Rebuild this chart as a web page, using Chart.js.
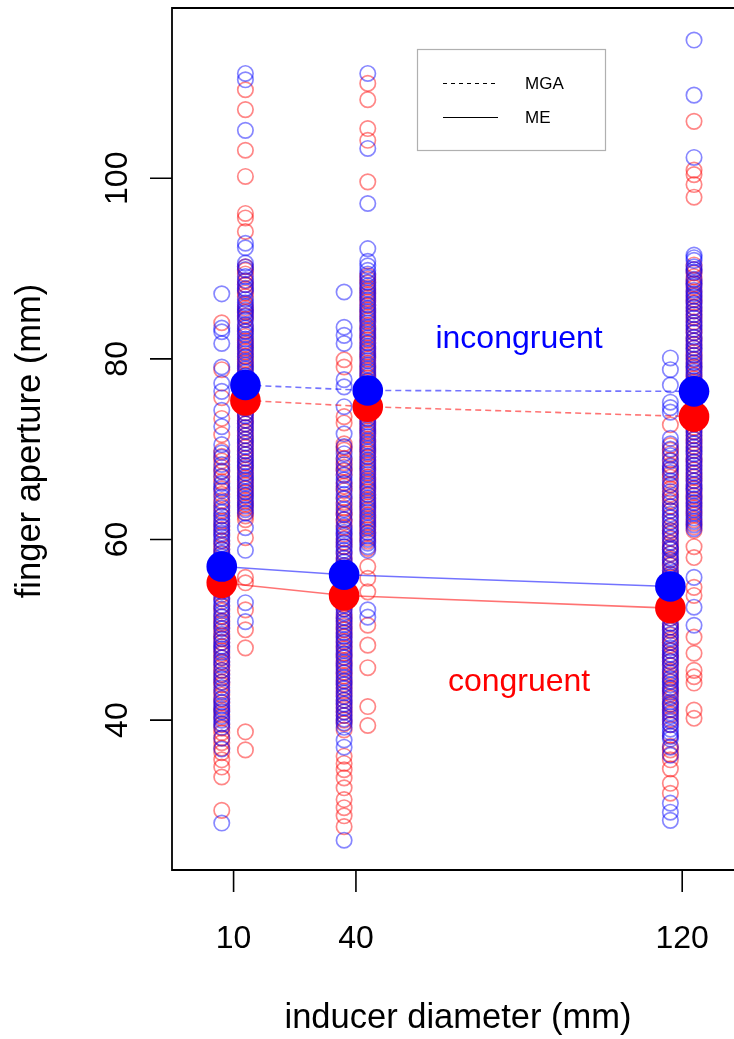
<!DOCTYPE html>
<html>
<head>
<meta charset="utf-8">
<script src="https://cdn.jsdelivr.net/npm/chart.js@4/dist/chart.umd.min.js"></script>
<style>
  html, body { margin: 0; padding: 0; background: #fff; }
  canvas { display: block; }
</style>
</head>
<body>
<canvas id="chart" width="734" height="1039"></canvas>
<script>
/* ───────────────────────── data ───────────────────────── */

const inducers = [10, 40, 120];
const xTicks = [10, 40, 120];
const yTicks = [40, 60, 80, 100];

// ME (left column of each pair)
const meCong10 = [84.0, 78.8, 75.7, 73.4, 71.6, 69.8, 68.7, 67.5, 66.4, 65.0, 64.3, 63.2, 62.0, 61.1, 60.5, 59.3, 58.4, 57.6, 56.8, 55.7, 55.1, 54.3, 53.4, 52.6, 51.5, 50.7, 49.8, 49.0, 48.1, 47.3, 46.4, 45.5, 44.7, 43.9, 42.8, 41.9, 41.0, 40.2, 39.5, 38.6, 37.5, 36.4, 35.6, 34.8, 33.7, 30.0,
  69.2, 68.0, 66.9, 65.6, 63.7, 62.6, 61.5, 59.8, 58.9, 57.1, 56.3, 54.7, 53.9, 52.1, 51.0, 50.2, 49.3, 48.6, 47.7, 46.9, 45.9, 45.1, 44.2, 43.3, 42.3, 41.4, 40.6, 39.1, 38.0, 36.9];
const meIncong10 = [87.2, 83.4, 83.0, 81.7, 79.1, 77.3, 76.4, 74.3, 72.5, 70.5, 69.1, 68.3, 67.0, 66.2, 65.4, 64.1, 63.5, 62.6, 61.8, 61.0, 60.3, 59.5, 58.9, 58.1, 57.4, 56.6, 55.9, 55.0, 54.2, 53.5, 52.7, 51.8, 50.9, 50.1, 49.0, 48.2, 47.5, 46.9, 46.1, 45.0, 44.2, 43.1, 42.4, 41.6, 40.9, 40.0, 39.2, 38.0, 36.8, 28.6,
  69.6, 67.6, 65.8, 64.7, 63.0, 62.2, 61.4, 60.7, 59.9, 58.5, 57.8, 57.0, 56.2, 55.4, 54.6, 53.1, 52.3, 51.4, 50.5, 49.5, 48.6, 47.9, 46.5, 45.5, 44.6, 43.6, 42.0, 41.2, 40.4, 39.6];
const meCong40 = [79.9, 79.1, 73.6, 72.9, 70.6, 69.9, 69.0, 68.0, 67.2, 66.3, 65.4, 64.6, 63.5, 62.7, 61.9, 60.6, 59.7, 58.5, 57.6, 56.4, 55.5, 54.7, 53.6, 52.8, 51.7, 50.9, 50.0, 49.2, 48.3, 47.4, 46.6, 45.8, 44.9, 44.0, 43.2, 42.2, 41.3, 40.5, 39.6, 38.9, 36.0, 34.5, 33.6, 32.5, 31.2, 30.3, 29.4, 28.2,
  70.2, 68.5, 67.6, 65.9, 64.1, 63.0, 62.2, 61.3, 60.1, 59.2, 58.0, 57.1, 56.0, 55.1, 54.2, 53.2, 52.3, 51.3, 50.4, 49.6, 48.7, 47.9, 47.0, 46.2, 45.3, 44.4, 43.6, 42.7, 41.7, 40.9, 40.0, 35.2];
const meIncong40 = [87.4, 83.5, 82.6, 81.7, 77.7, 76.9, 74.7, 71.7, 69.5, 68.3, 67.1, 66.2, 65.0, 63.9, 62.8, 61.5, 60.8, 60.0, 59.2, 58.4, 57.5, 56.8, 56.0, 55.1, 54.4, 53.5, 52.7, 51.9, 51.0, 50.1, 49.3, 48.6, 47.7, 46.9, 46.0, 45.2, 44.3, 43.5, 42.6, 41.8, 40.9, 40.1, 39.2, 37.8, 37.0, 26.7,
  70.3, 68.9, 67.7, 66.6, 65.6, 64.5, 63.3, 62.2, 61.1, 60.4, 59.6, 58.8, 57.9, 57.1, 56.4, 55.6, 54.8, 53.9, 53.1, 52.3, 51.4, 50.6, 49.7, 48.9, 48.1, 47.3, 46.4, 45.6, 44.7, 43.9, 43.0, 42.2, 41.4, 40.5, 39.7];
const meCong120 = [72.7, 70.4, 69.5, 68.8, 67.7, 66.9, 66.1, 65.0, 64.3, 63.2, 62.5, 61.4, 60.7, 59.6, 58.9, 57.8, 57.1, 56.1, 55.4, 54.3, 53.6, 52.5, 51.8, 50.7, 50.0, 48.9, 48.3, 47.2, 46.5, 45.4, 44.7, 43.6, 42.9, 41.8, 41.1, 40.1, 37.1, 36.2, 35.6, 34.6, 33.0, 31.9,
  69.9, 68.2, 67.2, 65.6, 64.7, 63.7, 62.0, 61.0, 60.1, 59.2, 58.4, 57.4, 56.6, 55.8, 54.8, 53.9, 53.0, 52.1, 51.3, 50.3, 49.4, 48.6, 47.7, 46.9, 46.0, 45.0, 44.2, 43.3, 42.4, 41.5, 40.6, 39.5, 38.3, 36.7];
const meIncong120 = [80.1, 78.8, 77.1, 75.2, 74.6, 74.1, 71.2, 70.0, 69.3, 68.1, 67.4, 66.5, 65.3, 64.7, 63.6, 62.8, 61.9, 61.0, 60.2, 59.1, 58.4, 57.7, 56.6, 55.9, 55.2, 54.3, 53.4, 52.5, 51.8, 50.7, 49.9, 49.1, 48.0, 47.3, 46.5, 45.6, 44.6, 43.9, 43.1, 42.0, 41.2, 40.4, 39.5, 38.6, 37.9, 37.0, 36.1, 30.8, 29.8, 28.9,
  70.6, 68.7, 67.8, 66.0, 64.1, 63.2, 62.4, 61.5, 60.6, 59.7, 58.9, 58.0, 57.2, 56.2, 55.5, 54.7, 53.9, 53.0, 52.1, 51.3, 50.3, 49.5, 48.6, 47.7, 46.9, 46.1, 45.2, 44.3, 43.5, 42.6, 41.7, 40.8, 39.9, 39.0, 38.2];

// MGA (right column of each pair)
const mgaCong10 = [109.8, 107.6, 103.1, 100.2, 96.1, 95.6, 94.1, 90.2, 89.4, 88.6, 87.7, 86.9, 86.0, 85.2, 84.4, 83.6, 82.5, 81.6, 80.8, 79.9, 79.1, 78.2, 77.4, 76.6, 75.7, 74.9, 74.0, 73.2, 72.4, 71.5, 70.6, 69.8, 69.0, 68.1, 67.3, 66.4, 65.6, 64.8, 63.9, 63.0, 62.2, 60.2, 55.8, 55.2, 52.2, 50.0, 48.0, 38.7, 36.7,
  89.8, 88.2, 87.3, 85.6, 84.8, 83.1, 82.0, 81.2, 80.3, 79.5, 78.7, 77.8, 77.0, 76.1, 75.3, 74.5, 73.6, 72.8, 71.9, 71.1, 70.2, 69.4, 68.5, 67.7, 66.8, 66.0, 65.2, 64.3, 63.5, 62.6];
const mgaIncong10 = [111.6, 110.9, 105.3, 92.8, 92.3, 90.6, 89.9, 89.1, 88.2, 87.5, 86.6, 85.8, 85.1, 84.3, 83.4, 82.7, 81.8, 81.0, 80.2, 79.3, 78.5, 77.8, 76.9, 76.1, 75.2, 74.5, 73.7, 72.8, 72.0, 71.1, 70.3, 69.4, 68.6, 67.9, 67.0, 66.2, 65.3, 64.5, 63.7, 62.9, 61.3, 58.8, 53.0, 50.9,
  90.2, 88.7, 87.8, 86.2, 85.4, 84.7, 83.8, 83.0, 82.2, 81.4, 80.6, 79.7, 78.9, 78.1, 77.3, 76.5, 75.6, 74.8, 74.0, 73.2, 72.4, 71.5, 70.7, 69.8, 69.0, 68.2, 67.4, 66.6, 65.7, 64.9, 64.1, 63.3];
const mgaCong40 = [110.5, 108.7, 105.5, 104.2, 99.6, 89.2, 88.4, 87.5, 86.7, 85.9, 85.0, 84.2, 83.3, 82.5, 81.7, 80.8, 80.0, 79.1, 78.3, 77.5, 76.6, 75.8, 74.9, 74.1, 73.3, 72.4, 71.6, 70.7, 69.9, 69.1, 68.2, 67.4, 66.5, 65.7, 64.9, 64.0, 63.2, 62.3, 61.5, 60.7, 59.8, 59.0, 57.0, 55.7, 54.2, 50.5, 48.3, 45.8, 41.5, 39.4,
  88.8, 87.9, 87.1, 86.3, 85.4, 84.6, 83.7, 82.9, 82.1, 81.2, 80.4, 79.5, 78.7, 77.9, 77.0, 76.2, 75.3, 74.5, 73.7, 72.8, 72.0, 71.1, 70.3, 69.5, 68.6, 67.8, 66.9, 66.1, 65.3, 64.4, 63.6, 62.7, 61.9, 61.1, 60.2];
const mgaIncong40 = [111.6, 103.3, 97.2, 92.2, 90.8, 89.8, 89.0, 88.1, 87.3, 86.5, 85.6, 84.8, 84.0, 83.1, 82.3, 81.4, 80.6, 79.8, 78.9, 78.1, 77.2, 76.4, 75.6, 74.7, 73.9, 73.0, 72.2, 71.4, 70.5, 69.7, 68.8, 68.0, 67.2, 66.3, 65.5, 64.6, 63.8, 63.0, 62.1, 61.3, 60.4, 59.6, 58.8, 52.2, 51.4,
  90.3, 89.4, 88.5, 87.7, 86.9, 86.0, 85.2, 84.4, 83.5, 82.7, 81.8, 81.0, 80.2, 79.3, 78.5, 77.6, 76.8, 76.0, 75.1, 74.3, 73.4, 72.6, 71.8, 70.9, 70.1, 69.2, 68.4, 67.6, 66.7, 65.9, 65.0, 64.2, 63.4, 62.5, 61.7, 60.8, 60.0, 59.2];
const mgaCong120 = [106.3, 100.9, 100.4, 99.3, 97.9, 90.4, 89.5, 88.7, 87.9, 87.0, 86.2, 85.3, 84.6, 83.7, 82.9, 82.0, 81.2, 80.4, 79.5, 78.7, 77.8, 77.0, 76.2, 75.3, 74.5, 73.6, 72.8, 71.9, 71.1, 70.3, 69.4, 68.6, 67.7, 66.9, 66.0, 65.2, 64.4, 63.5, 62.7, 61.8, 61.0, 59.2, 58.0, 54.7, 53.8, 49.2, 47.4, 45.5, 44.8, 44.1, 41.1, 40.2,
  89.9, 89.1, 88.3, 87.4, 86.6, 85.7, 84.9, 84.1, 83.2, 82.4, 81.6, 80.7, 79.9, 79.1, 78.2, 77.4, 76.6, 75.7, 74.9, 74.0, 73.2, 72.4, 71.5, 70.7, 69.9, 69.0, 68.2, 67.3, 66.5, 65.6, 64.8, 64.0, 63.1, 62.2, 61.4];
const mgaIncong120 = [115.3, 109.2, 102.3, 91.5, 90.9, 90.2, 89.6, 88.8, 88.1, 87.2, 86.5, 85.7, 84.9, 84.0, 83.3, 82.4, 81.6, 80.9, 80.0, 79.2, 78.5, 77.6, 76.8, 75.9, 75.1, 74.4, 73.5, 72.8, 71.9, 71.1, 70.2, 69.5, 68.6, 67.8, 67.0, 66.1, 65.4, 64.5, 63.7, 62.9, 62.0, 61.2, 55.8, 52.5, 50.5,
  91.2, 89.9, 88.4, 87.6, 86.9, 86.1, 85.3, 84.5, 83.7, 82.9, 82.0, 81.2, 80.4, 79.6, 78.9, 78.1, 77.2, 76.4, 75.5, 74.7, 73.9, 73.1, 72.3, 71.5, 70.6, 69.8, 69.0, 68.2, 67.4, 66.5, 65.7, 64.9, 64.1, 63.3, 62.4, 61.6];

// condition means (big dots)
const meanMeCong = [55.2, 53.8, 52.4];
const meanMeIncong = [57.0, 56.1, 54.8];
const meanMgaCong = [75.4, 74.7, 73.6];
const meanMgaIncong = [77.1, 76.5, 76.4];

/* ───────────────────────── helpers ───────────────────────── */

const ME_SHIFT = -2.9;
const MGA_SHIFT = 2.9;

const RED = 'rgba(255,0,0,0.47)';
const BLUE = 'rgba(0,0,255,0.47)';
const RED_LINE = 'rgba(255,0,0,0.55)';
const BLUE_LINE = 'rgba(0,0,255,0.55)';
const FONT = '"Liberation Sans", Arial, Helvetica, sans-serif';

function columnPoints(lists, shift) {
  const pts = [];
  lists.forEach((vals, i) => {
    for (const v of vals) pts.push({ x: inducers[i] + shift, y: v });
  });
  return pts;
}

function meanPoints(vals, shift) {
  return vals.map((v, i) => ({ x: inducers[i] + shift, y: v }));
}

function rawSet(data, color, order) {
  return {
    data, order,
    pointStyle: 'circle', pointRadius: 7.7, pointBorderWidth: 1.7,
    pointBorderColor: color, pointBackgroundColor: 'rgba(0,0,0,0)',
    showLine: false,
  };
}

function lineSet(data, color, dash, order) {
  return {
    data, order, showLine: true, borderColor: color, borderWidth: 1.6,
    borderDash: dash, pointRadius: 0, fill: false, tension: 0,
  };
}

function dotSet(data, color, order) {
  return {
    data, order, showLine: false, pointRadius: 15.3, pointBorderWidth: 0,
    pointBackgroundColor: color, pointBorderColor: color,
  };
}

/* ─────────────────── R-style frame and text ─────────────────── */

const rFrame = {
  id: 'rFrame',
  afterDraw(chart) {
    const { ctx, chartArea: a, scales: { x, y } } = chart;
    ctx.save();
    ctx.strokeStyle = '#000';
    ctx.lineWidth = 1.8;
    ctx.beginPath();
    ctx.moveTo(a.right + 20, a.top);
    ctx.lineTo(a.left, a.top);
    ctx.lineTo(a.left, a.bottom);
    ctx.lineTo(a.right + 20, a.bottom);
    ctx.stroke();

    // ticks
    ctx.lineWidth = 1.6;
    ctx.beginPath();
    for (const t of xTicks) {
      const px = x.getPixelForValue(t);
      ctx.moveTo(px, a.bottom);
      ctx.lineTo(px, a.bottom + 22);
    }
    for (const t of yTicks) {
      const py = y.getPixelForValue(t);
      ctx.moveTo(a.left, py);
      ctx.lineTo(a.left - 22, py);
    }
    ctx.stroke();

    // tick labels
    ctx.fillStyle = '#000';
    ctx.font = `32px ${FONT}`;
    ctx.textAlign = 'center';
    ctx.textBaseline = 'middle';
    for (const t of xTicks) ctx.fillText(String(t), x.getPixelForValue(t), 939);
    for (const t of yTicks) {
      ctx.save();
      ctx.translate(118, y.getPixelForValue(t));
      ctx.rotate(-Math.PI / 2);
      ctx.fillText(String(t), 0, 0);
      ctx.restore();
    }

    // axis titles
    ctx.font = `34.5px ${FONT}`;
    ctx.fillText('inducer diameter (mm)', 458, 1018);
    ctx.save();
    ctx.translate(30, 441);
    ctx.rotate(-Math.PI / 2);
    ctx.fillText('finger aperture (mm)', 0, 0);
    ctx.restore();

    // condition labels
    ctx.font = `32px ${FONT}`;
    ctx.fillStyle = '#0000ff';
    ctx.fillText('incongruent', x.getPixelForValue(80), y.getPixelForValue(82.2));
    ctx.fillStyle = '#ff0000';
    ctx.fillText('congruent', x.getPixelForValue(80), y.getPixelForValue(44.2));

    // legend
    ctx.strokeStyle = '#b0b0b0';
    ctx.lineWidth = 1.2;
    ctx.strokeRect(417.5, 49.5, 188, 101);
    ctx.strokeStyle = '#000';
    ctx.lineWidth = 1;
    ctx.setLineDash([4, 4]);
    ctx.beginPath();
    ctx.moveTo(443, 83.5); ctx.lineTo(498, 83.5);
    ctx.stroke();
    ctx.setLineDash([]);
    ctx.beginPath();
    ctx.moveTo(443, 117.5); ctx.lineTo(498, 117.5);
    ctx.stroke();
    ctx.fillStyle = '#000';
    ctx.font = `17px ${FONT}`;
    ctx.textAlign = 'left';
    ctx.fillText('MGA', 525, 84);
    ctx.fillText('ME', 525, 118);
    ctx.restore();
  },
};

/* ───────────────────────── render ────────────────────────── */

const datasets = [
  dotSet(meanPoints(meanMeIncong, ME_SHIFT), '#0000ff', 0),
  dotSet(meanPoints(meanMgaIncong, MGA_SHIFT), '#0000ff', 0),
  dotSet(meanPoints(meanMeCong, ME_SHIFT), '#ff0000', 1),
  dotSet(meanPoints(meanMgaCong, MGA_SHIFT), '#ff0000', 1),
  lineSet(meanPoints(meanMeIncong, ME_SHIFT), BLUE_LINE, [], 2),
  lineSet(meanPoints(meanMgaIncong, MGA_SHIFT), BLUE_LINE, [6, 4], 2),
  lineSet(meanPoints(meanMeCong, ME_SHIFT), RED_LINE, [], 3),
  lineSet(meanPoints(meanMgaCong, MGA_SHIFT), RED_LINE, [6, 4], 3),
  rawSet(columnPoints([meIncong10, meIncong40, meIncong120], ME_SHIFT), BLUE, 4),
  rawSet(columnPoints([mgaIncong10, mgaIncong40, mgaIncong120], MGA_SHIFT), BLUE, 4),
  rawSet(columnPoints([meCong10, meCong40, meCong120], ME_SHIFT), RED, 5),
  rawSet(columnPoints([mgaCong10, mgaCong40, mgaCong120], MGA_SHIFT), RED, 5),
];

new Chart(document.getElementById('chart'), {
  type: 'scatter',
  data: { datasets },
  options: {
    responsive: false,
    animation: false,
    events: [],
    layout: { autoPadding: false, padding: { left: 172, top: 8, right: 0, bottom: 169 } },
    plugins: { legend: { display: false }, tooltip: { enabled: false } },
    scales: {
      x: { type: 'linear', min: -5.1, max: 132.7, display: false },
      y: { type: 'linear', min: 23.4, max: 118.85, display: false },
    },
  },
  plugins: [rFrame],
});
</script>
</body>
</html>
